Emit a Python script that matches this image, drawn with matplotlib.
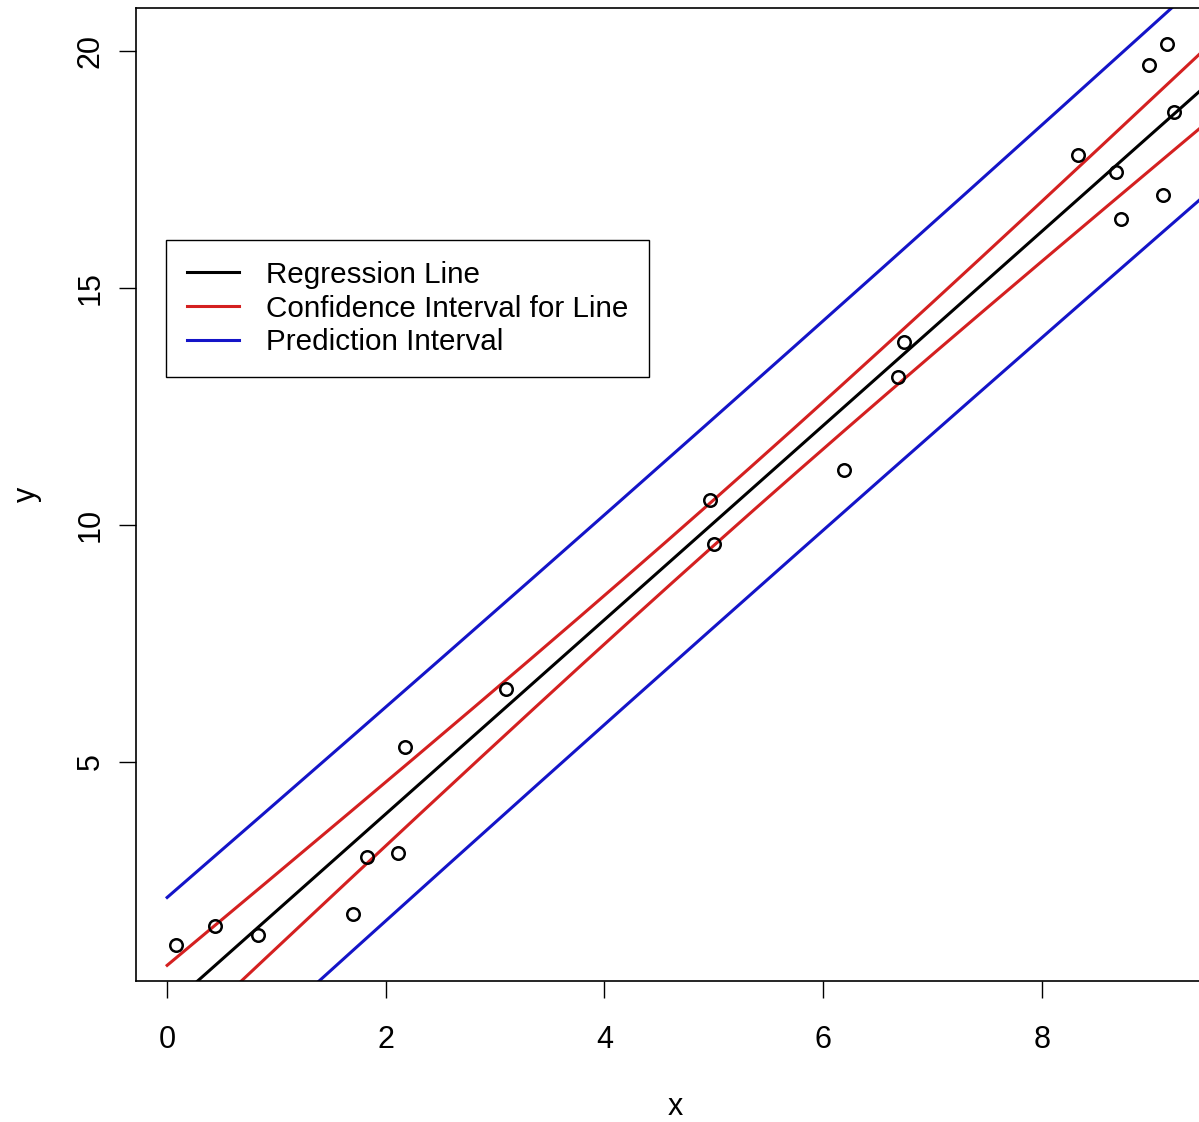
import numpy as np
import matplotlib.pyplot as plt

plt.rcParams['font.family'] = ['Liberation Sans', 'DejaVu Sans']

x = np.array([0.08, 0.44, 0.83, 1.70, 1.83, 2.11, 2.18, 3.10, 4.97, 5.00,
              6.19, 6.69, 6.74, 8.33, 8.68, 8.73, 8.98, 9.15, 9.11, 9.21])
y = np.array([1.14, 1.54, 1.35, 1.79, 3.00, 3.08, 5.32, 6.54, 10.53, 9.60,
              11.16, 13.12, 13.86, 17.80, 17.45, 16.46, 19.70, 20.15, 16.97, 18.71])

legend_labels = ["Regression Line", "Confidence Interval for Line", "Prediction Interval"]
t_crit = 2.100922  # t(0.975, df=18)


def fit_bands(x, y, x_new):
    """Least squares line with 95% confidence and prediction bands."""
    n = len(x)
    b1, b0 = np.polyfit(x, y, 1)
    resid = y - (b0 + b1 * x)
    s = np.sqrt(np.sum(resid ** 2) / (n - 2))
    sxx = np.sum((x - x.mean()) ** 2)
    fit = b0 + b1 * x_new
    se_fit = s * np.sqrt(1 / n + (x_new - x.mean()) ** 2 / sxx)
    se_pred = s * np.sqrt(1 + 1 / n + (x_new - x.mean()) ** 2 / sxx)
    return fit, t_crit * se_fit, t_crit * se_pred


def main():
    x_new = np.linspace(0, 10, 200)
    fit, ci, pi = fit_bands(x, y, x_new)

    fig = plt.figure(figsize=(11.99, 11.22), dpi=100)
    ax = fig.add_axes([0.1134, 0.1257, 0.899, 0.8672])

    ax.plot(x, y, 'o', mfc='none', mec='black', ms=9, mew=1.8, zorder=3)
    ax.plot(x_new, fit, color='black', lw=2.2, label=legend_labels[0])
    ax.plot(x_new, fit + ci, color='#d42020', lw=2.2, label=legend_labels[1])
    ax.plot(x_new, fit - ci, color='#d42020', lw=2.2)
    ax.plot(x_new, fit + pi, color='#1414c8', lw=2.2, label=legend_labels[2])
    ax.plot(x_new, fit - pi, color='#1414c8', lw=2.2)

    # R style: data range padded by 4%
    xr = x.max() - x.min()
    yr = y.max() - y.min()
    ax.set_xlim(x.min() - 0.04 * xr, x.max() + 0.04 * xr)
    ax.set_ylim(y.min() - 0.04 * yr, y.max() + 0.04 * yr)

    ax.set_xticks([0, 2, 4, 6, 8])
    ax.set_yticks([5, 10, 15, 20])
    ax.tick_params(axis='x', length=12, width=1, labelsize=22, pad=20)
    ax.tick_params(axis='y', length=12, width=1, labelsize=22, pad=10, labelrotation=90)
    for lab in ax.get_yticklabels():
        lab.set_va('center')
    for sp in ax.spines.values():
        sp.set_linewidth(1.2)

    ax.set_xlabel("x", fontsize=22, labelpad=26)
    ax.set_ylabel("y", fontsize=22, labelpad=24)

    leg = ax.legend(loc='upper left', bbox_to_anchor=(0.0278, 0.7616), borderaxespad=0,
                    fontsize=21.3, fancybox=False, edgecolor='black', framealpha=1,
                    handlelength=1.76, handletextpad=0.91, borderpad=0.7, labelspacing=0.2)
    leg.get_frame().set_linewidth(1.0)

    fig.savefig("out.png", dpi=100)


if __name__ == "__main__":
    main()
